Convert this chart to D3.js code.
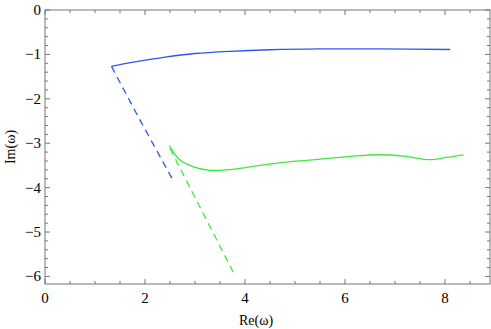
<!DOCTYPE html>
<html>
<head>
<meta charset="utf-8">
<script src="https://cdn.jsdelivr.net/npm/d3@7"></script>
<style>
  body { margin: 0; background: #fff; }
</style>
</head>
<body>
<svg id="chart" width="491" height="329"></svg>
<script>
// values
const blueSolidRe = [1.33, 1.8, 2.4, 3.0, 3.7, 4.5, 5.5, 6.7, 8.1];
const blueSolidIm = [-1.27, -1.17, -1.06, -0.98, -0.93, -0.895, -0.875, -0.875, -0.89];
const blueDashRe = [1.33, 1.9, 2.54];
const blueDashIm = [-1.27, -2.48, -3.79];
const greenSolidRe = [2.49, 2.57, 2.7, 2.97, 3.3, 3.63, 4.3, 4.97, 5.5, 6.17, 6.7, 7.17, 7.7, 8.03, 8.37];
const greenSolidIm = [-3.05, -3.2, -3.38, -3.53, -3.61, -3.6, -3.5, -3.41, -3.36, -3.29, -3.26, -3.29, -3.37, -3.32, -3.26];
const greenDashRe = [2.5, 3.15, 3.8];
const greenDashIm = [-3.12, -4.55, -5.98];
const xTicks = [0, 2, 4, 6, 8];
const yTicks = [0, -1, -2, -3, -4, -5, -6];

const svg = d3.select("#chart")
  .attr("font-family", "'Liberation Serif', 'Times New Roman', 'DejaVu Serif', serif");
const mLeft = 45, mRight = 490, mTop = 10, mBottom = 284;

const x = d3.scaleLinear().domain([0, 8.9]).range([mLeft, mRight]);
const y = d3.scaleLinear().domain([-6.17, 0]).range([mBottom, mTop]);

const fmt = d => d < 0 ? "\u2212" + Math.abs(d) : String(d);
const frameColor = "#777";

// minor tick values
const xMinor = d3.range(0, 8.91, 0.5).filter(v => Math.abs(v - Math.round(v / 2) * 2) > 1e-6);
const yMinor = d3.range(0, -6.17, -0.2).filter(v => Math.abs(v - Math.round(v)) > 1e-6);

const frame = svg.append("g");

function tickLines(vals, len, side) {
  vals.forEach(v => {
    if (side === "bottom") frame.append("line").attr("x1", x(v)).attr("x2", x(v)).attr("y1", mBottom).attr("y2", mBottom - len);
    if (side === "top") frame.append("line").attr("x1", x(v)).attr("x2", x(v)).attr("y1", mTop).attr("y2", mTop + len);
    if (side === "left") frame.append("line").attr("y1", y(v)).attr("y2", y(v)).attr("x1", mLeft).attr("x2", mLeft + len);
    if (side === "right") frame.append("line").attr("y1", y(v)).attr("y2", y(v)).attr("x1", mRight).attr("x2", mRight - len);
  });
}
["bottom", "top"].forEach(s => { tickLines(xTicks, 5, s); tickLines(xMinor, 3, s); });
["left", "right"].forEach(s => { tickLines(yTicks, 5, s); tickLines(yMinor, 3, s); });

frame.append("rect")
  .attr("x", mLeft).attr("y", mTop)
  .attr("width", mRight - mLeft).attr("height", mBottom - mTop)
  .attr("fill", "none");
frame.selectAll("line, rect").attr("stroke", frameColor).attr("stroke-width", 1);

// tick labels
svg.selectAll(".xlab").data(xTicks).enter().append("text")
  .attr("x", d => x(d)).attr("y", mBottom + 19)
  .attr("text-anchor", "middle").attr("font-size", 15)
  .text(fmt);
svg.selectAll(".ylab").data(yTicks).enter().append("text")
  .attr("x", mLeft - 4).attr("y", d => y(d) + 5)
  .attr("text-anchor", "end").attr("font-size", 15)
  .text(fmt);

// axis titles
svg.append("text").attr("x", 256).attr("y", 325)
  .attr("text-anchor", "middle").attr("font-size", 14)
  .text("Re(\u03c9)");
svg.append("text")
  .attr("transform", `translate(15, ${(mTop + mBottom) / 2}) rotate(-90)`)
  .attr("text-anchor", "middle").attr("font-size", 14)
  .text("Im(\u03c9)");

const zip = (a, b) => a.map((v, i) => [v, b[i]]);
const smooth = d3.line().x(d => x(d[0])).y(d => y(d[1])).curve(d3.curveCatmullRom);
const straight = d3.line().x(d => x(d[0])).y(d => y(d[1])).curve(d3.curveLinear);

const series = [
  { pts: zip(blueSolidRe, blueSolidIm), color: "#2f55f0", dash: null, gen: smooth },
  { pts: zip(blueDashRe, blueDashIm), color: "#2f55f0", dash: "7,5", gen: straight },
  { pts: zip(greenSolidRe, greenSolidIm), color: "#3fe83f", dash: null, gen: smooth },
  { pts: zip(greenDashRe, greenDashIm), color: "#3fe83f", dash: "7,5", gen: straight }
];

series.forEach(s => {
  svg.append("path")
    .attr("d", s.gen(s.pts))
    .attr("fill", "none")
    .attr("stroke", s.color)
    .attr("stroke-width", 1.3)
    .attr("stroke-dasharray", s.dash);
});
</script>
</body>
</html>
